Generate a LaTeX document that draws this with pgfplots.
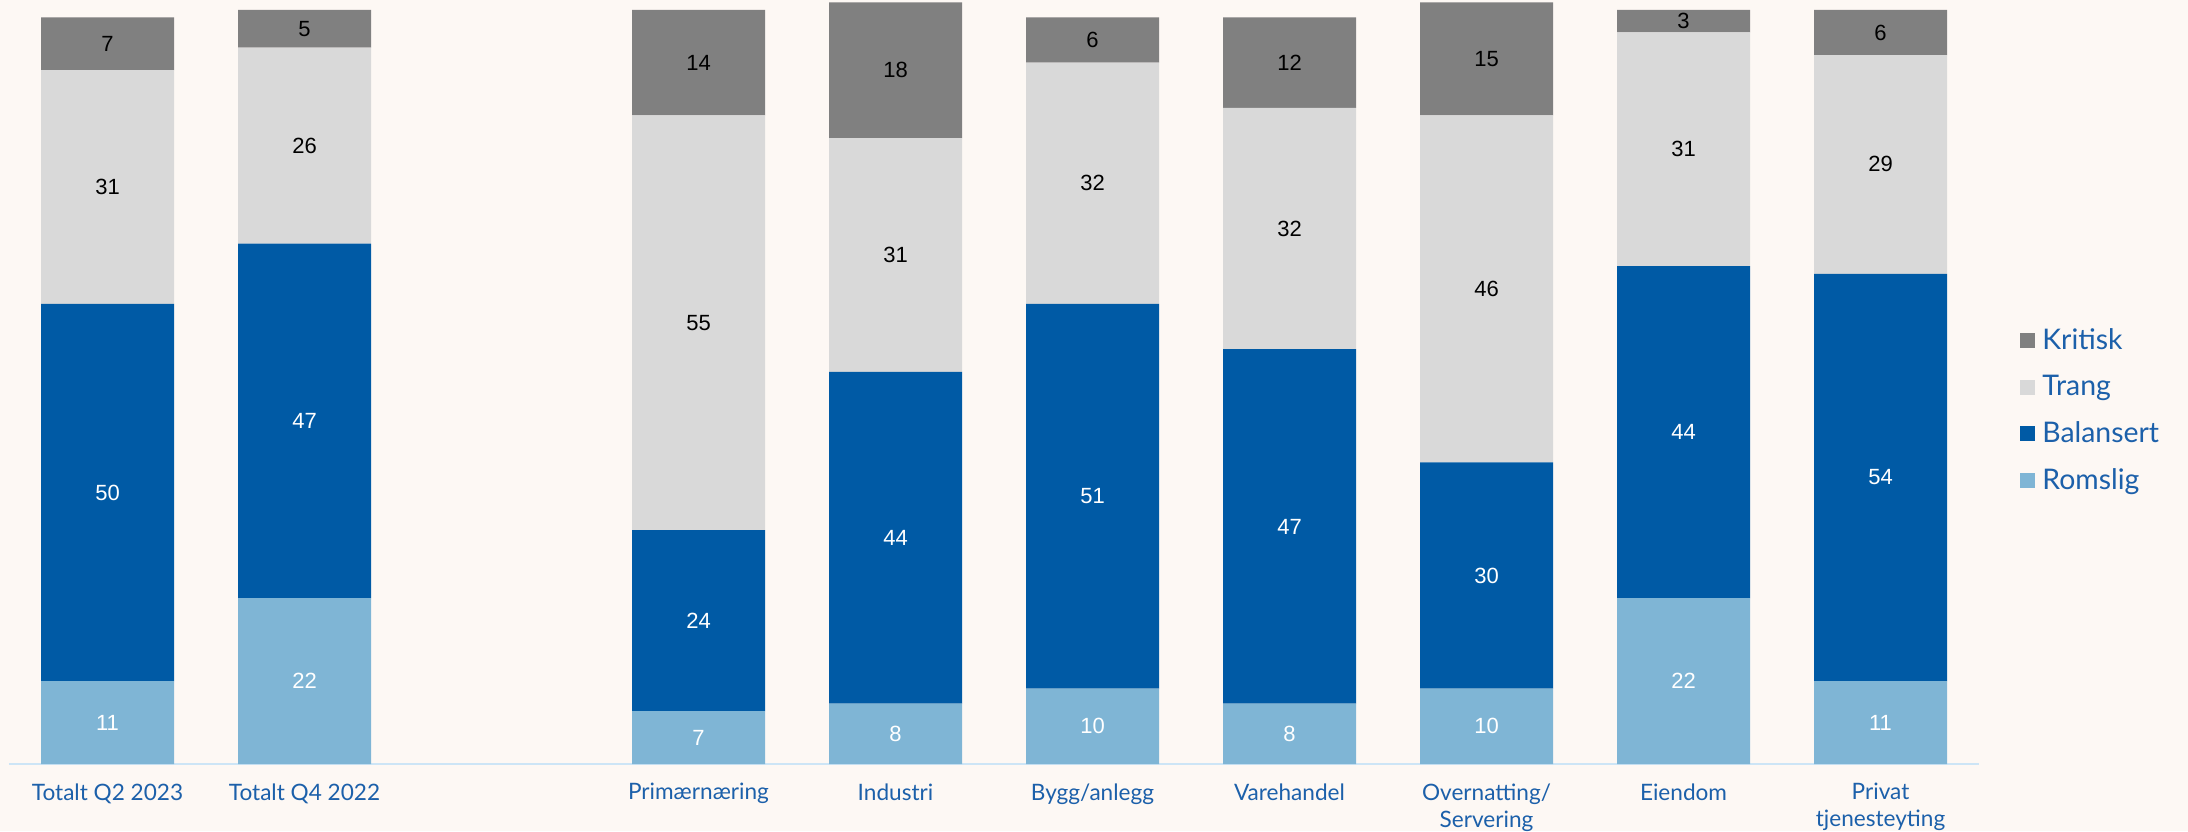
\documentclass[border=0pt]{standalone}
\usepackage{pgfplots}
\pgfplotsset{compat=1.18}
\usepackage{fontspec}
\setmainfont{Lato}
\newfontfamily\numfont{Liberation Sans}
\definecolor{bgc}{HTML}{FDF8F4}
\definecolor{romslig}{HTML}{7FB5D5}
\definecolor{balansert}{HTML}{005AA5}
\definecolor{trang}{HTML}{D9D9D9}
\definecolor{kritisk}{HTML}{808080}
\definecolor{axisblue}{HTML}{CDE5F6}
\definecolor{labblue}{HTML}{1C60AA}
\begin{document}
\begin{tikzpicture}
\fill[bgc] (-4.5pt,-33.5pt) rectangle (1089.5pt,382pt);
\begin{axis}[
  scale only axis, width=985pt, height=382pt,
  xmin=-0.5, xmax=9.5, ymin=0, ymax=101.3,
  ybar stacked, bar width=66.5pt,
  axis x line*=bottom, axis y line=none,
  axis line style={axisblue, line width=1pt, -},
  xtick={0,1,3,4,5,6,7,8,9},
  xticklabels={Totalt Q2 2023,Totalt Q4 2022,Primærnæring,Industri,Bygg/anlegg,Varehandel,{Overnatting/\\Servering},Eiendom,{Privat\\tjenesteyting}},
  xtick style={draw=none},
  xticklabel style={font=\fontsize{11.3}{13.5}\selectfont, text=labblue, align=center, inner sep=0pt, anchor=north, yshift=-9.5pt},
  legend style={at={(1.0208,0.4627)}, anchor=west, draw=none, fill=none, inner sep=0pt,
    font=\fontsize{14.2}{16}\selectfont, text=labblue, row sep=11.4pt, column sep=3.5pt,
    nodes={inner sep=0pt}},
  legend cell align=left,
  reverse legend,
  legend image code/.code={\fill[#1] (0pt,-3.75pt) rectangle (7.5pt,3.75pt);},
]
\addplot[fill=romslig, draw=none] coordinates {(0,11) (1,22) (3,7) (4,8) (5,10) (6,8) (7,10) (8,22) (9,11)};
\addlegendentry{Romslig}
\addplot[fill=balansert, draw=none] coordinates {(0,50) (1,47) (3,24) (4,44) (5,51) (6,47) (7,30) (8,44) (9,54)};
\addlegendentry{Balansert}
\addplot[fill=trang, draw=none] coordinates {(0,31) (1,26) (3,55) (4,31) (5,32) (6,32) (7,46) (8,31) (9,29)};
\addlegendentry{Trang}
\addplot[fill=kritisk, draw=none] coordinates {(0,7) (1,5) (3,14) (4,18) (5,6) (6,12) (7,15) (8,3) (9,6)};
\addlegendentry{Kritisk}
\end{axis}
\begin{axis}[
  scale only axis, width=985pt, height=382pt,
  xmin=-0.5, xmax=9.5, ymin=0, ymax=101.3,
  hide axis,
  nodes near coords, point meta=explicit symbolic,
  nodes near coords align={center},
  every node near coord/.append style={font=\numfont\fontsize{11}{13}\selectfont, inner sep=0pt},
]
\addplot[draw=none, mark=none, every node near coord/.append style={text=white}] coordinates {
 (0,5.5)[11] (1,11)[22] (3,3.5)[7] (4,4)[8] (5,5)[10] (6,4)[8] (7,5)[10] (8,11)[22] (9,5.5)[11]};
\addplot[draw=none, mark=none, every node near coord/.append style={text=white}] coordinates {
 (0,36)[50] (1,45.5)[47] (3,19)[24] (4,30)[44] (5,35.5)[51] (6,31.5)[47] (7,25)[30] (8,44)[44] (9,38)[54]};
\addplot[draw=none, mark=none, every node near coord/.append style={text=black}] coordinates {
 (0,76.5)[31] (1,82)[26] (3,58.5)[55] (4,67.5)[31] (5,77)[32] (6,71)[32] (7,63)[46] (8,81.5)[31] (9,79.5)[29]};
\addplot[draw=none, mark=none, every node near coord/.append style={text=black}] coordinates {
 (0,95.5)[7] (1,97.5)[5] (3,93)[14] (4,92)[18] (5,96)[6] (6,93)[12] (7,93.5)[15] (8,98.5)[3] (9,97)[6]};
\end{axis}
\pgfresetboundingbox
\useasboundingbox (-4.5pt,-33.5pt) rectangle (1089.5pt,382pt);
\end{tikzpicture}
\end{document}
